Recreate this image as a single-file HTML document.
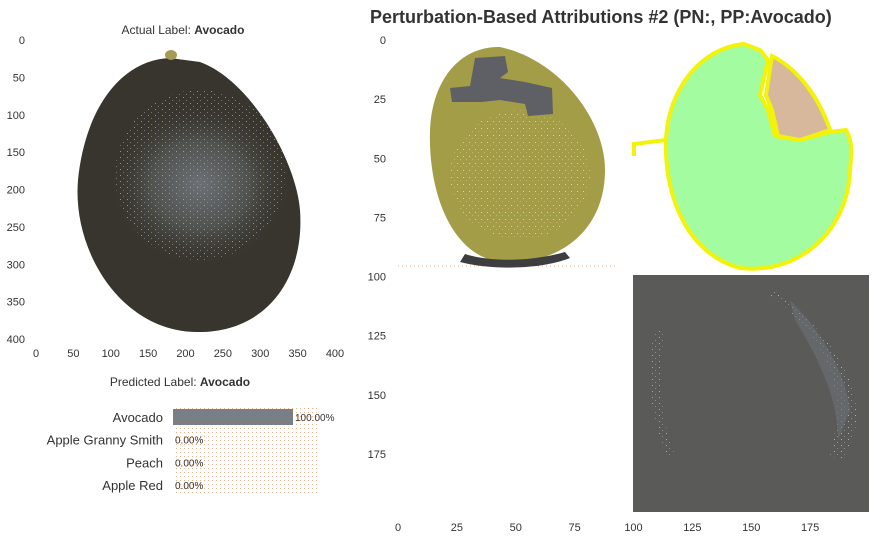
<!DOCTYPE html>
<html><head><meta charset="utf-8"><style>
html,body{margin:0;padding:0;background:#fff;}
svg{display:block;font-family:"Liberation Sans",sans-serif;}
</style></head><body>
<svg width="883" height="542" viewBox="0 0 883 542">
<defs>
<pattern id="dots" width="4" height="4" patternUnits="userSpaceOnUse"><rect width="1" height="1" fill="#e8b48e"/></pattern>
<pattern id="speck" width="7" height="6" patternUnits="userSpaceOnUse"><rect x="1" y="1" width="1" height="1" fill="#c9b89a"/><rect x="4" y="4" width="1" height="1" fill="#8e9298"/></pattern>
<pattern id="speck2" width="6" height="7" patternUnits="userSpaceOnUse"><rect x="1" y="2" width="1" height="1" fill="#e7c9b5"/><rect x="4" y="5" width="1" height="1" fill="#c5b46a"/></pattern>
<radialGradient id="tex" cx="0.5" cy="0.5" r="0.5"><stop offset="0" stop-color="#6c7176"/><stop offset="0.55" stop-color="#50524e"/><stop offset="1" stop-color="#3a3832" stop-opacity="0"/></radialGradient>
</defs>

<g>
<text x="183" y="34" text-anchor="middle" font-size="12" fill="#333">Actual Label: <tspan font-weight="bold">Avocado</tspan></text>
<path d="M170,58 C120,60 85,110 78,180 C72,250 120,330 195,332 C265,334 305,280 300,210 C296,160 250,80 200,62 Z" fill="#38352e"/>
<ellipse cx="200" cy="185" rx="90" ry="80" fill="url(#tex)"/>
<ellipse cx="200" cy="175" rx="85" ry="85" fill="url(#speck)" opacity="0.7"/>
<ellipse cx="171" cy="55" rx="6" ry="5" fill="#a59b55"/>
<g id="leftTicks"></g>
</g>

<g>
<text x="180" y="386" text-anchor="middle" font-size="12" fill="#333">Predicted Label: <tspan font-weight="bold">Avocado</tspan></text>
<rect x="173" y="408" width="145" height="86" fill="url(#dots)"/>
<g id="bars"></g>
</g>

<text x="370" y="23" font-size="18" font-weight="bold" fill="#333">Perturbation-Based Attributions #2 (PN:, PP:Avocado)</text>
<g>
<line x1="398" y1="266" x2="615" y2="266" stroke="#e8b48e" stroke-dasharray="1,3"/>
<path d="M500,47 C460,46 432,80 430,130 C428,190 450,255 500,262 C560,266 605,230 605,170 C605,120 560,60 500,47 Z" fill="#a39d48"/>
<ellipse cx="520" cy="175" rx="70" ry="65" fill="url(#speck2)"/>
<path d="M460,262 C490,270 540,270 570,258 L565,252 C530,262 490,262 465,254 Z" fill="#3e3e40"/>
<path d="M475,58 L505,56 L508,72 L500,78 L525,82 L552,88 L553,114 L528,116 L525,104 L500,100 L482,102 L452,102 L450,88 L470,86 Z" fill="#5e6066"/>
<path d="M744,44 C700,48 668,90 666,140 C664,200 690,255 740,268 C800,275 848,230 850,170 C852,150 852,140 846,130 L830,132 L800,140 L775,136 L768,110 L760,95 L768,60 L760,50 Z" fill="#a4fca0" stroke="#f2f20a" stroke-width="4"/>
<path d="M772,56 C800,70 820,100 830,130 L800,140 L778,136 L772,110 L766,95 Z" fill="#d7b89d" stroke="#f2f20a" stroke-width="4"/>
<path d="M666,140 L634,144 L634,156" fill="none" stroke="#f2f20a" stroke-width="4"/>
<rect x="633" y="275" width="236" height="237" fill="#5a5a58"/>
<path d="M775,290 C810,320 845,350 855,400 C860,430 850,450 840,460 L830,455 C840,420 840,380 815,340 C800,320 785,305 770,295 Z" fill="url(#speck)" opacity="0.9"/>
<path d="M790,300 C820,330 845,370 850,410 L838,440 C838,400 820,360 795,320 Z" fill="#6c7178" opacity="0.6"/>
<path d="M655,330 C645,370 650,420 668,460 L675,455 C660,420 658,370 665,330 Z" fill="url(#speck)" opacity="0.8"/>
<g id="rightTicks"></g>
</g>

<script>
const NS="http://www.w3.org/2000/svg";
const categories=["Avocado","Apple Granny Smith","Peach","Apple Red"];
const probs=[100,0,0,0];
const leftTicks=[0,50,100,150,200,250,300,350,400];
const rightYTicks=[0,25,50,75,100,125,150,175];
const rightXTicks=[0,25,50,75,100,125,150,175];

function txt(parent,x,y,s,anchor,size){
  const t=document.createElementNS(NS,"text");
  t.setAttribute("x",x);t.setAttribute("y",y);
  t.setAttribute("text-anchor",anchor);t.setAttribute("font-size",size||11);
  t.setAttribute("fill","#333");t.textContent=s;parent.appendChild(t);return t;
}
const lx=v=>36+v*0.7475, ly=v=>40+v*0.7475;
const lt=document.getElementById("leftTicks");
leftTicks.forEach(v=>{
  const a=txt(lt,lx(v),357,String(v),"middle");
  
  
  const b=txt(lt,25,ly(v)+4,String(v),"end");
  
  
});

const bx=v=>173+v*1.2, rowY=i=>417+i*22.7;
const bg=document.getElementById("bars");
categories.forEach((c,i)=>{
  const y=rowY(i);
  const r=document.createElementNS(NS,"rect");
  r.setAttribute("x",bx(0));r.setAttribute("y",y-8);
  r.setAttribute("width",bx(probs[i])-bx(0));r.setAttribute("height",16);
  r.setAttribute("fill","#7a7f85");
  
  
  bg.appendChild(r);
  const l=txt(bg,163,y+5,c,"end",13);
  
  
  const p=txt(bg,bx(probs[i])+2,y+4,probs[i].toFixed(2)+"%","start",10);
  
  
});

const rx=v=>398+v*2.355, ry=v=>40+v*2.365;
const rt=document.getElementById("rightTicks");
rightYTicks.forEach(v=>{
  const a=txt(rt,386,ry(v)+4,String(v),"end");
  
  
});
rightXTicks.forEach(v=>{
  const a=txt(rt,rx(v),531,String(v),"middle");
  
  
});
</script>
</svg>
</body></html>
